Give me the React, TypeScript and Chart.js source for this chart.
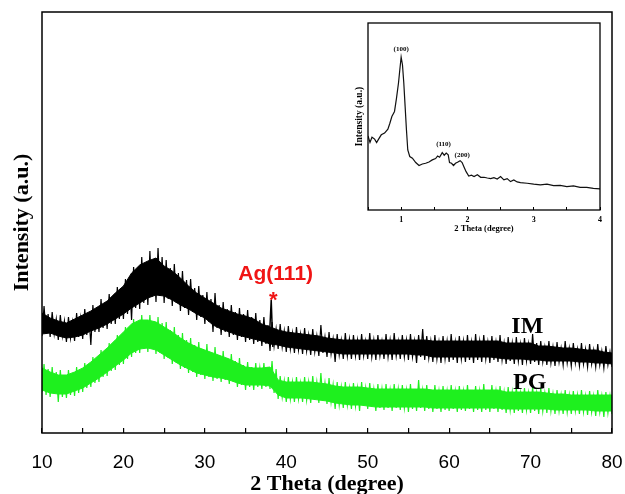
import React, { useEffect, useRef } from 'react';
import { Chart, registerables } from 'chart.js';
Chart.register(...registerables);

// 2θ positions of the trace's valleys (degrees)
const thetaValley = [
  10, 10.5, 11, 11.5, 12, 12.5, 13, 13.5, 14, 14.5, 15, 15.5, 16, 16.5, 17, 17.5, 18, 18.5, 19, 19.5,
  20, 20.5, 21, 21.5, 22, 22.5, 23, 23.5, 24, 24.5, 25, 25.5, 26, 26.5, 27, 27.5, 28, 28.5, 29, 29.5,
  30, 30.5, 31, 31.5, 32, 32.5, 33, 33.5, 34, 34.5, 35, 35.5, 36, 36.5, 37, 37.5, 38, 38.5, 39, 39.5,
  40, 40.5, 41, 41.5, 42, 42.5, 43, 43.5, 44, 44.5, 45, 45.5, 46, 46.5, 47, 47.5, 48, 48.5, 49, 49.5,
  50, 50.5, 51, 51.5, 52, 52.5, 53, 53.5, 54, 54.5, 55, 55.5, 56, 56.5, 57, 57.5, 58, 58.5, 59, 59.5,
  60, 60.5, 61, 61.5, 62, 62.5, 63, 63.5, 64, 64.5, 65, 65.5, 66, 66.5, 67, 67.5, 68, 68.5, 69, 69.5,
  70, 70.5, 71, 71.5, 72, 72.5, 73, 73.5, 74, 74.5, 75, 75.5, 76, 76.5, 77, 77.5, 78, 78.5, 79, 79.5,
  80,
];
// 2θ positions of the trace's crests (degrees)
const thetaCrest = [
  10.25, 10.75, 11.25, 11.75, 12.25, 12.75, 13.25, 13.75, 14.25, 14.75, 15.25, 15.75, 16.25, 16.75, 17.25, 17.75, 18.25, 18.75, 19.25, 19.75,
  20.25, 20.75, 21.25, 21.75, 22.25, 22.75, 23.25, 23.75, 24.25, 24.75, 25.25, 25.75, 26.25, 26.75, 27.25, 27.75, 28.25, 28.75, 29.25, 29.75,
  30.25, 30.75, 31.25, 31.75, 32.25, 32.75, 33.25, 33.75, 34.25, 34.75, 35.25, 35.75, 36.25, 36.75, 37.25, 37.75, 38.25, 38.75, 39.25, 39.75,
  40.25, 40.75, 41.25, 41.75, 42.25, 42.75, 43.25, 43.75, 44.25, 44.75, 45.25, 45.75, 46.25, 46.75, 47.25, 47.75, 48.25, 48.75, 49.25, 49.75,
  50.25, 50.75, 51.25, 51.75, 52.25, 52.75, 53.25, 53.75, 54.25, 54.75, 55.25, 55.75, 56.25, 56.75, 57.25, 57.75, 58.25, 58.75, 59.25, 59.75,
  60.25, 60.75, 61.25, 61.75, 62.25, 62.75, 63.25, 63.75, 64.25, 64.75, 65.25, 65.75, 66.25, 66.75, 67.25, 67.75, 68.25, 68.75, 69.25, 69.75,
  70.25, 70.75, 71.25, 71.75, 72.25, 72.75, 73.25, 73.75, 74.25, 74.75, 75.25, 75.75, 76.25, 76.75, 77.25, 77.75, 78.25, 78.75, 79.25, 79.75,
];
// 2θ positions of the dense core of each band (degrees)
const thetaCore = [
  10, 11, 12, 13, 14, 15, 16, 17, 18, 19, 20, 21, 22, 23, 24, 25, 26, 27, 28, 29,
  30, 31, 32, 33, 34, 35, 36, 37, 38, 39, 40, 41, 42, 43, 44, 45, 46, 47, 48, 49,
  50, 51, 52, 53, 54, 55, 56, 57, 58, 59, 60, 61, 62, 63, 64, 65, 66, 67, 68, 69,
  70, 71, 72, 73, 74, 75, 76, 77, 78, 79, 80,
];

// IM pattern (a.u.): valleys and crests of the noisy trace
const imValley = [
  97, 100, 96, 99, 93, 97, 91, 95, 92, 96, 94, 98, 88, 101, 101, 105, 104, 109, 109, 114,
  114, 119, 113, 125, 124, 130, 128, 136, 131, 137, 130, 134, 127, 130, 122, 125, 118, 121, 113, 116,
  109, 111, 101, 105, 98, 101, 96, 98, 93, 96, 91, 93, 89, 91, 87, 89, 82, 87, 84, 86,
  81, 84, 80, 83, 79, 82, 78, 81, 77, 80, 76, 79, 71, 78, 74, 77, 74, 77, 73, 77,
  74, 76, 73, 77, 74, 76, 73, 77, 74, 76, 73, 76, 70, 76, 73, 75, 71, 74, 70, 74,
  71, 73, 70, 74, 71, 73, 70, 73, 71, 74, 70, 73, 71, 73, 69, 72, 69, 72, 68, 72,
  69, 71, 68, 71, 68, 70, 67, 71, 68, 70, 67, 70, 67, 69, 66, 69, 66, 68, 65, 68,
  66,
];
const imCrest = [
  127, 119, 121, 114, 118, 112, 116, 111, 120, 115, 124, 119, 128, 124, 134, 129, 139, 134, 146, 143,
  154, 152, 166, 161, 176, 170, 182, 174, 185, 176, 173, 165, 169, 160, 162, 153, 154, 145, 147, 138,
  141, 134, 140, 128, 131, 124, 128, 121, 125, 119, 123, 116, 120, 113, 116, 108, 111, 104, 109, 102,
  107, 100, 106, 99, 105, 98, 104, 97, 108, 96, 101, 94, 99, 93, 100, 94, 98, 93, 99, 92,
  100, 93, 98, 92, 99, 93, 100, 92, 98, 93, 99, 92, 98, 104, 97, 92, 98, 91, 97, 92,
  99, 91, 97, 92, 98, 91, 99, 92, 98, 91, 97, 91, 98, 90, 96, 90, 96, 89, 95, 89,
  99, 90, 92, 86, 92, 86, 91, 85, 92, 85, 90, 84, 90, 84, 89, 83, 89, 82, 87, 81,
];
// IM pattern (a.u.): top and bottom of the dense core
const imCoreTop = [
  120, 115, 112, 110, 114, 118, 122, 127, 132, 140, 147, 160, 168, 172, 175, 167, 162, 155, 147, 140,
  135, 130, 125, 122, 119, 117, 114, 109, 106, 103, 101, 100, 99, 98, 97, 95, 94, 93, 93, 93,
  93, 93, 93, 93, 93, 93, 93, 93, 92, 92, 92, 92, 92, 92, 92, 92, 92, 90, 90, 90,
  90, 87, 87, 86, 85, 85, 84, 83, 83, 81, 80,
];
const imCoreBottom = [
  99, 100, 97, 95, 96, 98, 102, 105, 109, 114, 119, 125, 130, 135, 138, 137, 133, 128, 124, 119,
  115, 108, 104, 101, 98, 96, 94, 92, 89, 88, 86, 85, 84, 83, 82, 81, 80, 79, 79, 79,
  79, 79, 79, 79, 79, 79, 78, 78, 76, 76, 76, 76, 76, 76, 76, 76, 75, 74, 74, 74,
  73, 73, 72, 72, 72, 72, 71, 71, 70, 70, 69,
];

// Ag(111) reflection on the IM pattern
const agTheta = [37.95, 38.15, 38.35];
const agValue = [100, 133, 86];

// PG pattern (a.u.): valleys and crests of the noisy trace
const pgValley = [
  41, 38, 36, 39, 31, 36, 35, 38, 37, 40, 41, 45, 46, 50, 51, 56, 57, 62, 63, 68,
  69, 74, 76, 80, 80, 84, 81, 84, 79, 80, 74, 75, 69, 70, 64, 65, 60, 61, 56, 58,
  54, 56, 52, 54, 51, 53, 49, 51, 46, 48, 43, 46, 43, 46, 44, 46, 44, 40, 34, 36,
  31, 34, 31, 34, 31, 33, 30, 33, 30, 32, 29, 31, 24, 28, 25, 28, 24, 27, 22, 27,
  24, 26, 22, 25, 23, 25, 22, 25, 23, 25, 21, 24, 22, 25, 22, 24, 21, 24, 21, 23,
  22, 24, 21, 23, 22, 24, 21, 23, 21, 23, 21, 24, 21, 23, 20, 23, 20, 22, 20, 23,
  20, 22, 19, 22, 20, 22, 19, 22, 19, 21, 19, 22, 19, 21, 18, 21, 17, 21, 16, 20,
  19,
];
const pgCrest = [
  69, 64, 66, 61, 63, 58, 63, 59, 66, 62, 70, 66, 76, 72, 83, 79, 90, 86, 98, 95,
  106, 102, 114, 110, 118, 113, 118, 112, 116, 110, 111, 103, 106, 98, 100, 93, 95, 88, 91, 84,
  89, 81, 86, 78, 82, 75, 79, 72, 75, 68, 71, 66, 70, 65, 70, 66, 72, 64, 57, 52,
  56, 51, 56, 50, 56, 51, 57, 51, 60, 50, 55, 48, 51, 46, 51, 45, 50, 45, 51, 45,
  50, 44, 49, 44, 49, 43, 49, 44, 48, 43, 49, 44, 53, 43, 48, 43, 48, 42, 47, 42,
  48, 42, 47, 42, 48, 43, 47, 42, 49, 43, 48, 42, 47, 41, 46, 41, 46, 40, 45, 40,
  46, 40, 45, 40, 45, 39, 43, 38, 43, 38, 42, 38, 43, 37, 42, 37, 43, 37, 41, 37,
];
// PG pattern (a.u.): top and bottom of the dense core
const pgCoreTop = [
  65, 61, 58, 58, 61, 65, 71, 78, 85, 93, 101, 109, 113, 113, 111, 106, 101, 95, 90, 86,
  83, 80, 77, 74, 70, 66, 65, 65, 66, 53, 51, 51, 51, 51, 50, 49, 47, 46, 46, 46,
  45, 44, 44, 44, 44, 44, 44, 44, 43, 43, 43, 43, 43, 43, 43, 43, 43, 41, 41, 41,
  41, 41, 40, 39, 39, 38, 38, 38, 38, 38, 38,
];
const pgCoreBottom = [
  43, 40, 39, 39, 42, 45, 50, 55, 61, 67, 73, 80, 84, 85, 83, 78, 73, 68, 64, 60,
  58, 56, 55, 53, 50, 48, 48, 48, 47, 38, 35, 35, 35, 34, 33, 32, 30, 29, 28, 28,
  27, 26, 26, 26, 26, 26, 26, 26, 25, 25, 25, 25, 25, 25, 25, 25, 25, 24, 24, 24,
  24, 24, 24, 23, 23, 23, 23, 23, 22, 22, 22,
];

// Inset: low-angle pattern
const insetTheta = [
  0.5, 0.53, 0.56, 0.6, 0.63, 0.66, 0.7, 0.75, 0.8, 0.83, 0.86, 0.9, 0.93, 0.96, 0.98,
  1.0, 1.02, 1.04, 1.06, 1.08, 1.1, 1.13, 1.17, 1.22, 1.27, 1.32, 1.37, 1.42, 1.47, 1.52,
  1.55, 1.58, 1.62, 1.65, 1.68, 1.71, 1.73, 1.76, 1.79, 1.82, 1.85, 1.89, 1.92, 1.95, 1.98,
  2.02, 2.06, 2.1, 2.15, 2.2, 2.25, 2.3, 2.35, 2.4, 2.45, 2.5, 2.55, 2.6, 2.65, 2.7, 2.75, 2.8,
  2.9, 3.0, 3.1, 3.2, 3.3, 3.4, 3.5, 3.6, 3.7, 3.8, 3.9, 4.0,
];
const insetValue = [
  39.6, 36.1, 38.9, 37.9, 36.1, 37.9, 40.2, 41.1, 43.2, 46.4, 50.0, 52.7, 59.8, 67.9, 75.0,
  81.8, 77.7, 67.9, 55.4, 42.9, 32.1, 28.6, 27.7, 25.4, 23.8, 24.6, 25.0, 25.7, 26.8, 27.5,
  28.9, 28.2, 30.7, 29.3, 30.4, 29.5, 25.4, 25.0, 23.8, 25.0, 25.5, 26.4, 25.4, 22.9, 20.5,
  18.2, 18.6, 17.9, 18.9, 17.5, 17.5, 17.1, 16.8, 17.3, 16.6, 17.9, 16.1, 16.8, 15.2, 16.1, 15.0, 14.6,
  14.3, 13.8, 13.4, 13.8, 13.0, 13.2, 12.5, 12.9, 12.1, 12.1, 11.6, 11.3,
];

const SERIF = '"Liberation Serif", "Times New Roman", serif';
const SANS = '"Liberation Sans", Arial, sans-serif';

const mainNotes = [
  { text: 'IM', x: 69.6, y: 106, font: `bold 24px ${SERIF}`, color: '#000' },
  { text: 'PG', x: 69.9, y: 50, font: `bold 24px ${SERIF}`, color: '#000' },
  { text: 'Ag(111)', x: 38.7, y: 159, font: `bold 21px ${SANS}`, color: '#f01414' },
  { text: '*', x: 38.4, y: 132, font: `bold 22px ${SANS}`, color: '#f01414' },
];
const insetNotes = [
  { text: '(100)', x: 1.0, y: 86, font: `bold 7px ${SERIF}`, color: '#000' },
  { text: '(110)', x: 1.64, y: 35, font: `bold 7px ${SERIF}`, color: '#000' },
  { text: '(200)', x: 1.92, y: 29.5, font: `bold 7px ${SERIF}`, color: '#000' },
];

const framePlugin = {
  id: 'frame',
  afterDraw(chart: any, _args: any, opts: any) {
    const { ctx, chartArea } = chart;
    ctx.save();
    ctx.strokeStyle = '#000';
    ctx.lineWidth = opts.width || 1.5;
    ctx.strokeRect(chartArea.left, chartArea.top, chartArea.right - chartArea.left, chartArea.bottom - chartArea.top);
    ctx.restore();
  },
};

const notesPlugin = {
  id: 'notes',
  afterDatasetsDraw(chart: any, _args: any, opts: any) {
    const { ctx, scales } = chart;
    ctx.save();
    ctx.textAlign = 'center';
    ctx.textBaseline = 'middle';
    for (const n of opts.items || []) {
      ctx.font = n.font;
      ctx.fillStyle = n.color;
      ctx.fillText(n.text, scales.x.getPixelForValue(n.x), scales.y.getPixelForValue(n.y));
    }
    ctx.restore();
  },
};

const pts = (xs: number[], ys: number[]) => xs.map((x, i) => ({ x, y: ys[i] }));

// merge valley and crest points into one trace, ordered by 2θ
const trace = (vx: number[], vy: number[], cx: number[], cy: number[]) => {
  const out: { x: number; y: number }[] = [];
  vx.forEach((x, i) => {
    out.push({ x, y: vy[i] });
    if (i < cx.length) out.push({ x: cx[i], y: cy[i] });
  });
  return out;
};

const noPad = (s: any) => {
  s.paddingLeft = 0;
  s.paddingRight = 0;
  s.paddingTop = 0;
  s.paddingBottom = 0;
};

export default function App() {
  const mainRef = useRef<HTMLCanvasElement>(null);
  const insetRef = useRef<HTMLCanvasElement>(null);

  useEffect(() => {
    const line = (data: any, color: string, width: number, fill: any = false) => ({
      data,
      borderColor: color,
      backgroundColor: color,
      borderWidth: width,
      pointRadius: 0,
      fill,
      tension: 0,
    });
    const BLACK = '#000000';
    const GREEN = '#1ef01e';
    const main = new Chart(mainRef.current!, {
      type: 'line',
      data: {
        datasets: [
          line(pts(thetaCore, imCoreBottom), BLACK, 1),
          line(pts(thetaCore, imCoreTop), BLACK, 1, '-1'),
          line(trace(thetaValley, imValley, thetaCrest, imCrest), BLACK, 1.2),
          line(pts(agTheta, agValue), BLACK, 1.5),
          line(pts(thetaCore, pgCoreBottom), GREEN, 1),
          line(pts(thetaCore, pgCoreTop), GREEN, 1, '-1'),
          line(trace(thetaValley, pgValley, thetaCrest, pgCrest), GREEN, 1.2),
        ],
      },
      options: {
        responsive: false,
        animation: false,
        devicePixelRatio: 1,
        layout: { padding: { left: 0, right: 13, top: 12, bottom: 0 } },
        plugins: {
          legend: { display: false },
          tooltip: { enabled: false },
          frame: { width: 1.5 },
          notes: { items: mainNotes },
        } as any,
        scales: {
          x: {
            type: 'linear',
            min: 10,
            max: 80,
            afterFit: (s: any) => { s.height = 61; noPad(s); },
            ticks: {
              stepSize: 5,
              autoSkip: false,
              maxRotation: 0,
              padding: 23,
              color: '#000',
              font: { family: SANS, size: 19 },
              callback: (v: any) => (Number(v) % 10 === 0 ? String(v) : ''),
            },
            grid: { display: true, drawOnChartArea: false, drawTicks: true, tickLength: -5, color: '#000', lineWidth: 1.2 },
            border: { display: false },
            title: {
              display: true,
              text: '2 Theta (degree)',
              color: '#000',
              font: { family: SERIF, size: 22, weight: 'bold', lineHeight: 0.85 },
              padding: { top: 0, bottom: 0 },
            },
          },
          y: {
            type: 'linear',
            min: 0,
            max: 421,
            afterFit: (s: any) => { s.width = 42; noPad(s); },
            ticks: { display: false },
            grid: { display: false },
            border: { display: false },
            title: {
              display: true,
              text: 'Intensity (a.u.)',
              color: '#000',
              font: { family: SERIF, size: 22, weight: 'bold', lineHeight: 1 },
              padding: { top: 11, bottom: 0 },
            },
          },
        },
      } as any,
      plugins: [framePlugin, notesPlugin],
    });

    const inset = new Chart(insetRef.current!, {
      type: 'line',
      data: {
        datasets: [line(pts(insetTheta, insetValue), '#111111', 1.2)],
      },
      options: {
        responsive: false,
        animation: false,
        devicePixelRatio: 1,
        layout: { padding: { left: 0, right: 8, top: 5, bottom: 0 } },
        plugins: {
          legend: { display: false },
          tooltip: { enabled: false },
          frame: { width: 1.3 },
          notes: { items: insetNotes },
        } as any,
        scales: {
          x: {
            type: 'linear',
            min: 0.5,
            max: 4,
            afterFit: (s: any) => { s.height = 30; noPad(s); },
            ticks: {
              stepSize: 0.5,
              autoSkip: false,
              maxRotation: 0,
              padding: 8,
              color: '#000',
              font: { family: SERIF, size: 8, weight: 'bold' },
              callback: (v: any) => (Number.isInteger(Number(v)) ? String(v) : ''),
            },
            grid: { display: true, drawOnChartArea: false, drawTicks: true, tickLength: -3, color: '#000', lineWidth: 1 },
            border: { display: false },
            title: {
              display: true,
              text: '2 Theta (degree)',
              color: '#000',
              font: { family: SERIF, size: 8.5, weight: 'bold', lineHeight: 1 },
              padding: { top: 0, bottom: 6.5 },
            },
          },
          y: {
            type: 'linear',
            min: 0,
            max: 100,
            afterFit: (s: any) => { s.width = 18; noPad(s); },
            ticks: { display: false },
            grid: { display: false },
            border: { display: false },
            title: {
              display: true,
              text: 'Intensity (a.u.)',
              color: '#000',
              font: { family: SERIF, size: 9.5, weight: 'bold', lineHeight: 1 },
              padding: { top: 5, bottom: 0 },
            },
          },
        },
      } as any,
      plugins: [framePlugin, notesPlugin],
    });

    return () => {
      main.destroy();
      inset.destroy();
    };
  }, []);

  return (
    <div style={{ position: 'fixed', left: 0, top: 0, width: 625, height: 494, background: '#fff' }}>
      <canvas
        ref={mainRef}
        width={625}
        height={494}
        style={{ position: 'absolute', left: 0, top: 0, width: 625, height: 494 }}
      />
      <canvas
        ref={insetRef}
        width={258}
        height={222}
        style={{ position: 'absolute', left: 350, top: 18, width: 258, height: 222 }}
      />
    </div>
  );
}
